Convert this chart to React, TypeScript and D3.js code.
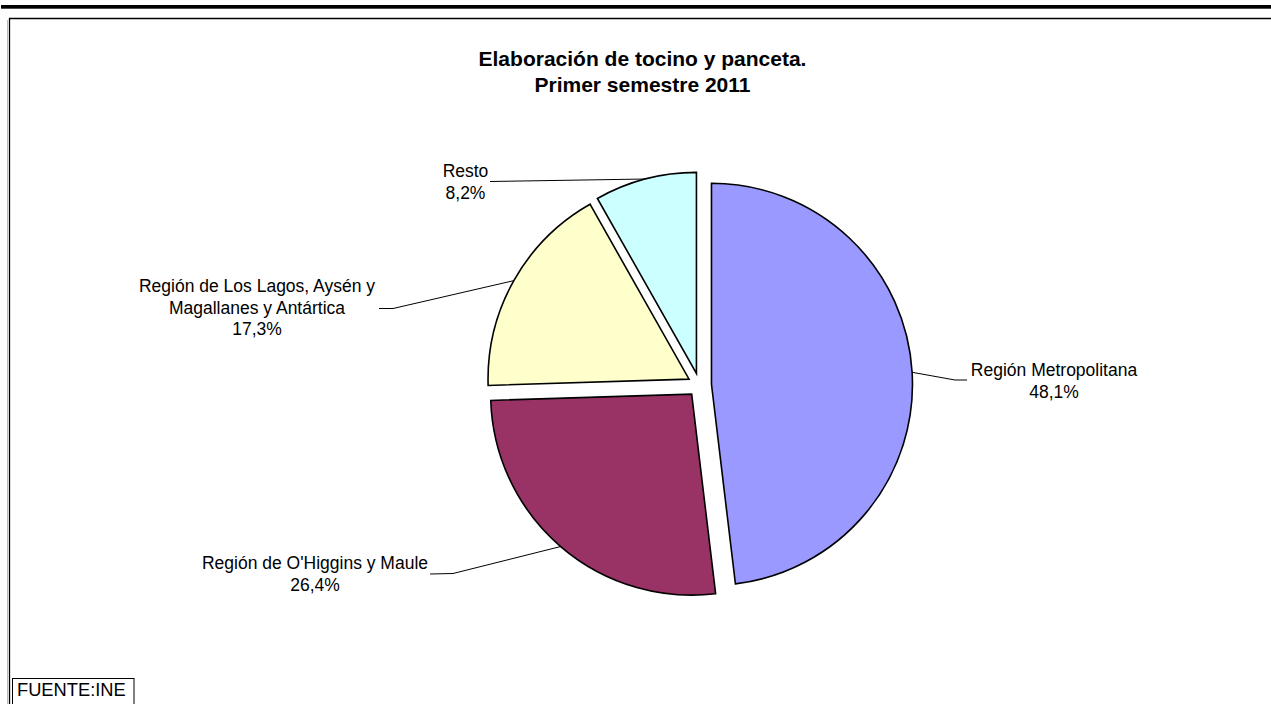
import React from "react";
import * as d3 from "d3";

const categories = [
  "Región Metropolitana",
  "Región de O'Higgins y Maule",
  "Región de Los Lagos, Aysén y Magallanes y Antártica",
  "Resto",
];
const values = [48.1, 26.4, 17.3, 8.2];
const valueLabels = ["48,1%", "26,4%", "17,3%", "8,2%"];
const labelLines = [
  ["Región Metropolitana"],
  ["Región de O'Higgins y Maule"],
  ["Región de Los Lagos, Aysén y", "Magallanes y Antártica"],
  ["Resto"],
];
const colors = ["#9999FF", "#993366", "#FFFFCC", "#CCFFFF"];
const titleLines = ["Elaboración de tocino y panceta.", "Primer semestre 2011"];
const sourceText = "FUENTE:INE";

// layout (label placement, as set in the original chart)
const W = 1271;
const H = 704;
const CX = 699.5;
const CY = 385;
const R = 201;
const EXPLODE = 12;
const labelLayout = [
  { x: 1054, y: 376, elbow: [[967, 380], [955, 380]] },
  { x: 315, y: 569, elbow: [[430, 574], [453, 573.5]] },
  { x: 257, y: 292, elbow: [[379, 308.5], [393, 308.5]] },
  { x: 465.5, y: 177, elbow: [[490, 181.5]] },
];
const FONT = "'Liberation Sans', Arial, sans-serif";
const LINE_H = 21.5;

export default function App() {
  const pie = d3
    .pie<number>()
    .sort(null)
    .startAngle(0)
    .endAngle(2 * Math.PI);
  const arcs = pie(values);
  const arc = d3.arc<d3.PieArcDatum<number>>().innerRadius(0).outerRadius(R);

  return (
    <svg
      width={W}
      height={H}
      style={{ position: "absolute", left: 0, top: 0, background: "#fff" }}
      fontFamily={FONT}
    >
      <rect x={0} y={0} width={W} height={H} fill="#fff" />
      <rect x={1} y={5} width={W - 1} height={3.7} fill="#000" />
      <line x1={7.5} y1={20} x2={7.5} y2={H} stroke="#bbb" strokeWidth={1} />
      <line x1={9} y1={18.5} x2={W} y2={18.5} stroke="#000" strokeWidth={1.3} />
      <line x1={9.5} y1={18} x2={9.5} y2={H} stroke="#000" strokeWidth={1.3} />

      <text x={642.5} y={66} textAnchor="middle" fontWeight="bold" fontSize={21}>
        {titleLines[0]}
      </text>
      <text x={642.5} y={91.5} textAnchor="middle" fontWeight="bold" fontSize={21}>
        {titleLines[1]}
      </text>

      {arcs.map((a, i) => {
        const mid = (a.startAngle + a.endAngle) / 2;
        const ox = CX + EXPLODE * Math.sin(mid);
        const oy = CY - EXPLODE * Math.cos(mid);
        return (
          <path
            key={categories[i]}
            d={arc(a) || ""}
            transform={`translate(${ox},${oy})`}
            fill={colors[i]}
            stroke="#000"
            strokeWidth={1.6}
            strokeLinejoin="miter"
          />
        );
      })}

      {arcs.map((a, i) => {
        const mid = (a.startAngle + a.endAngle) / 2;
        const ox = CX + EXPLODE * Math.sin(mid);
        const oy = CY - EXPLODE * Math.cos(mid);
        const px = ox + R * Math.sin(mid);
        const py = oy - R * Math.cos(mid);
        const L = labelLayout[i];
        const pts: [number, number][] = [...(L.elbow as [number, number][]), [px, py]];
        const lines = [...labelLines[i], valueLabels[i]];
        return (
          <g key={"lab" + i}>
            <path
              d={d3.line()(pts) || ""}
              fill="none"
              stroke="#000"
              strokeWidth={1}
            />
            {lines.map((t, j) => (
              <text
                key={j}
                x={L.x}
                y={L.y + j * LINE_H}
                textAnchor="middle"
                fontSize={17.5}
                fill="#000"
              >
                {t}
              </text>
            ))}
          </g>
        );
      })}

      <rect x={12.5} y={678.5} width={121.5} height={30} fill="#fff" stroke="#000" strokeWidth={1} />
      <text x={17} y={695.5} fontSize={18.3} fill="#000">
        {sourceText}
      </text>
    </svg>
  );
}
